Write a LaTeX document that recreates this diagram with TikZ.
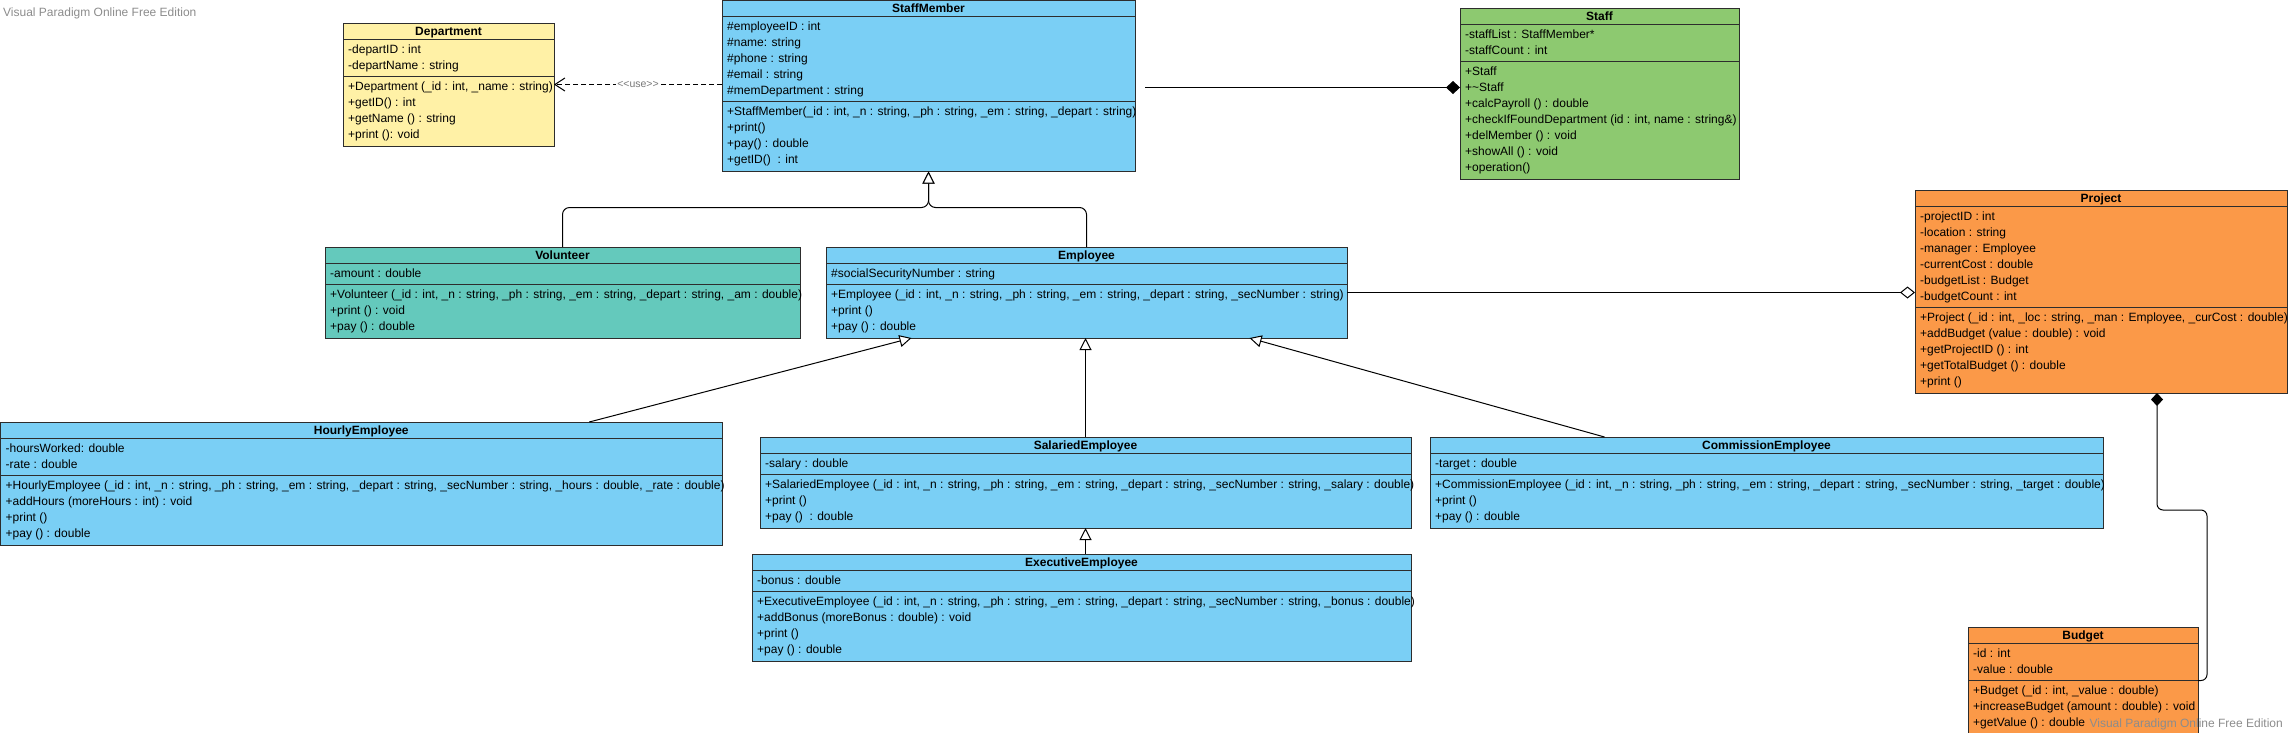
\documentclass[tikz,border=0pt]{standalone}
\usepackage{fontspec}
\setmainfont{Liberation Sans}
\usetikzlibrary{arrows.meta,calc}
\definecolor{cyellow}{RGB}{255,241,166}
\definecolor{cblue}{RGB}{122,207,245}
\definecolor{cgreen}{RGB}{141,201,112}
\definecolor{cteal}{RGB}{100,201,188}
\definecolor{corange}{RGB}{251,153,72}
\definecolor{cborder}{RGB}{45,45,45}
\definecolor{cwm}{RGB}{140,140,140}
\definecolor{clabel}{RGB}{120,120,120}
\tikzset{
  classbox/.style={draw=cborder, line width=1pt, rectangle, inner sep=0pt, outer sep=0pt},
  sepline/.style={draw=cborder, line width=1pt},
  rowtext/.style={anchor=base west, inner sep=0pt, font=\fontsize{12}{16}\selectfont},
  titletext/.style={anchor=base, inner sep=0pt, font=\fontsize{12}{16}\selectfont\bfseries},
  conn/.style={draw=black, line width=1pt},
  gen/.style={conn, -{Triangle[length=12pt,width=12pt,fill=white,line width=1pt]}},
  depline/.style={conn, dash pattern=on 5pt off 3pt, -{Straight Barb[length=10pt,width=13pt,line width=1pt]}},
  deplabel/.style={fill=white, inner sep=1.5pt, text=clabel, font=\fontsize{10.5}{12}\selectfont},
  compoend/.style={conn, -{Diamond[length=14pt,width=13pt]}},
  compostart/.style={conn, {Diamond[length=13pt,width=12pt]}-},
  aggrend/.style={conn, -{Diamond[length=15pt,width=12pt,fill=white,line width=1pt]}},
  wm/.style={inner sep=0pt, text=cwm, font=\fontsize{12}{14}\selectfont}
}
% #1 name #2 x #3 ytop #4 width #5 fill #6 title #7 attrs #8 methods
\newcommand\umlclass[8]{%
  \gdef\nattr{0}\gdef\nmeth{0}%
  \foreach \r [count=\i] in {#7} {\xdef\nattr{\i}}%
  \foreach \r [count=\i] in {#8} {\xdef\nmeth{\i}}%
  \pgfmathsetmacro\ya{#3+16}%
  \pgfmathsetmacro\yb{\ya+\nattr*16+5}%
  \pgfmathsetmacro\yc{\yb+\nmeth*16+6}%
  \pgfmathsetmacro\hh{\yc-#3}%
  \node[classbox, fill=#5, minimum width=#4pt, minimum height=\hh pt, anchor=north west] (#1) at (#2,#3) {};
  \node[titletext] at (#2+#4/2, #3+12.3) {#6};
  \draw[sepline] (#2,\ya) -- ++(#4,0);
  \draw[sepline] (#2,\yb) -- ++(#4,0);
  \foreach \r [count=\i from 0] in {#7} {\node[rowtext] at (#2+5, \ya+14.3+16*\i) {\r};}%
  \foreach \r [count=\i from 0] in {#8} {\node[rowtext] at (#2+5, \yb+14.3+16*\i) {\r};}%
}
\begin{document}
\begin{tikzpicture}[x=1pt,y=-1pt]
\useasboundingbox (0,0) rectangle (2288,732);

\umlclass{dep}{343}{23}{211}{cyellow}{Department}
 {{-departID : int},{-departName : string}}
 {{+Department (\_id : int, \_name : string)},{+getID() : int},{+getName () : string},{+print (): void}}

\umlclass{sm}{722}{0.5}{413}{cblue}{StaffMember}
 {{\#employeeID : int},{\#name: string},{\#phone : string},{\#email : string},{\#memDepartment : string}}
 {{+StaffMember(\_id : int, \_n : string, \_ph : string, \_em : string, \_depart : string)},{+print()},{+pay() : double},{+getID()\ \ : int}}

\umlclass{staff}{1460}{8}{279}{cgreen}{Staff}
 {{-staffList : StaffMember*},{-staffCount : int}}
 {{+Staff},{+\textasciitilde Staff},{+calcPayroll () : double},{+checkIfFoundDepartment (id : int, name : string\&)},{+delMember () : void},{+showAll () : void},{+operation()}}

\umlclass{proj}{1915}{190}{372}{corange}{Project}
 {{-projectID : int},{-location : string},{-manager : Employee},{-currentCost : double},{-budgetList : Budget},{-budgetCount : int}}
 {{+Project (\_id : int, \_loc : string, \_man : Employee, \_curCost : double)},{+addBudget (value : double) : void},{+getProjectID () : int},{+getTotalBudget () : double},{+print ()}}

\umlclass{vol}{325}{247}{475}{cteal}{Volunteer}
 {{-amount : double}}
 {{+Volunteer (\_id : int, \_n : string, \_ph : string, \_em : string, \_depart : string, \_am : double)},{+print () : void},{+pay () : double}}

\umlclass{emp}{826}{247}{521}{cblue}{Employee}
 {{\#socialSecurityNumber : string}}
 {{+Employee (\_id : int, \_n : string, \_ph : string, \_em : string, \_depart : string, \_secNumber : string)},{+print ()},{+pay () : double}}

\umlclass{hourly}{0.5}{422}{721.5}{cblue}{HourlyEmployee}
 {{-hoursWorked: double},{-rate : double}}
 {{+HourlyEmployee (\_id : int, \_n : string, \_ph : string, \_em : string, \_depart : string, \_secNumber : string, \_hours : double, \_rate : double)},{+addHours (moreHours : int) : void},{+print ()},{+pay () : double}}

\umlclass{sal}{760}{437}{651}{cblue}{SalariedEmployee}
 {{-salary : double}}
 {{+SalariedEmployee (\_id : int, \_n : string, \_ph : string, \_em : string, \_depart : string, \_secNumber : string, \_salary : double)},{+print ()},{+pay ()\ \ : double}}

\umlclass{exec}{752}{554}{659}{cblue}{ExecutiveEmployee}
 {{-bonus : double}}
 {{+ExecutiveEmployee (\_id : int, \_n : string, \_ph : string, \_em : string, \_depart : string, \_secNumber : string, \_bonus : double)},{+addBonus (moreBonus : double) : void},{+print ()},{+pay () : double}}

\umlclass{comm}{1430}{437}{673}{cblue}{CommissionEmployee}
 {{-target : double}}
 {{+CommissionEmployee (\_id : int, \_n : string, \_ph : string, \_em : string, \_depart : string, \_secNumber : string, \_target : double)},{+print ()},{+pay () : double}}

\umlclass{budget}{1968}{627}{230}{corange}{Budget}
 {{-id : int},{-value : double}}
 {{+Budget (\_id : int, \_value : double)},{+increaseBudget (amount : double) : void},{+getValue () : double}}

% dependency
\draw[depline] (sm.west |- dep.east) -- node[deplabel]{<{}<use>{}>} (dep.east);
% composition StaffMember -> Staff
\coordinate (c1) at ($(sm.east)+(10,1.5)$);
\draw[compoend] (c1) -- (c1 -| staff.west);
% generalization to StaffMember
\coordinate (j1) at ($(sm.south)+(0,36)$);
\draw[gen, rounded corners=7pt] (vol.north) |- (j1) -- (sm.south);
\draw[gen, rounded corners=7pt] (emp.north) |- (j1) -- (sm.south);
% aggregation Employee - Project
\draw[aggrend] (emp.east) -- (emp.east -| proj.west);
% generalizations to Employee
\draw[gen] ([xshift=228pt]hourly.north) -- ([xshift=-175pt]emp.south);
\draw[gen] (sal.north) -- (sal.north |- emp.south);
\draw[gen] ([xshift=-162pt]comm.north) -- ([xshift=163pt]emp.south);
\draw[gen] (exec.north -| sal.south) -- (sal.south);
% composition Project - Budget
\draw[compostart, rounded corners=6pt] ([xshift=56pt]proj.south) -- ++(0,117) -| ($(budget.east)+(9,0)$) -- (budget.east);

% watermarks
\node[wm, anchor=base west] (wm1) at (3,16) {Visual Paradigm Online Free Edition};
\node[wm, anchor=base east] (wm2) at (2283,727) {Visual Paradigm Online Free Edition};
\end{tikzpicture}
\end{document}
